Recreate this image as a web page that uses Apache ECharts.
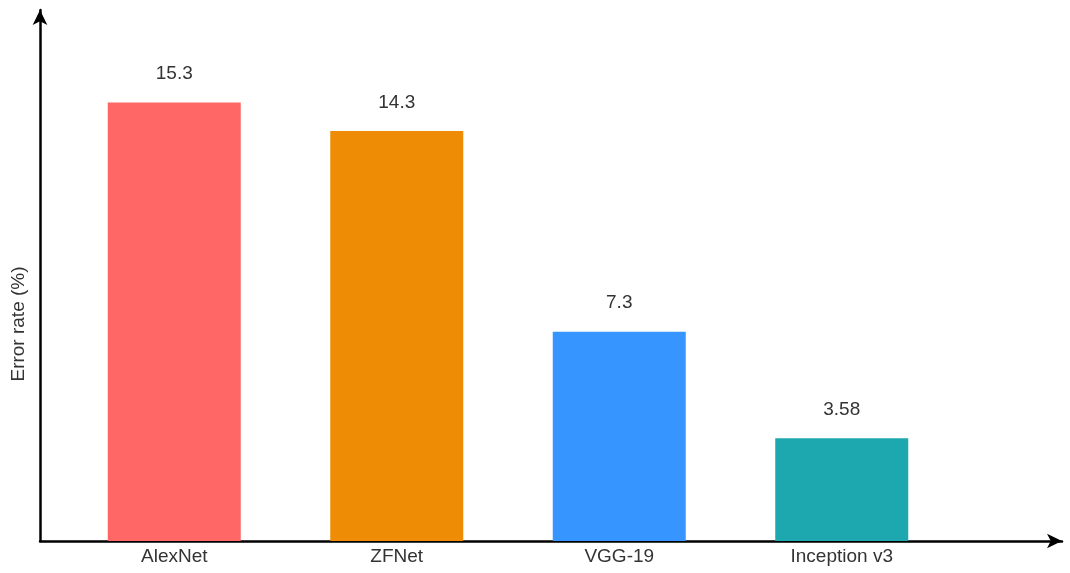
<!DOCTYPE html>
<html>
<head>
<meta charset="utf-8">
<script src="https://cdn.jsdelivr.net/npm/echarts@6/dist/echarts.min.js"></script>
<style>
  html, body { margin: 0; padding: 0; background: #ffffff; }
  #chart { width: 1070px; height: 573px; }
</style>
</head>
<body>
<div id="chart"></div>
<script>
// Top-5 error rates of well-known CNN architectures
const models = ['AlexNet', 'ZFNet', 'VGG-19', 'Inception v3'];
const errorRates = [15.3, 14.3, 7.3, 3.58];
const barColors = ['#FF6666', '#EF8C05', '#3795FF', '#1CA8AE'];
const yAxisTitle = 'Error rate (%)';

const chart = echarts.init(document.getElementById('chart'));
const font = 'Liberation Sans, Arial, sans-serif';

chart.setOption({
  backgroundColor: '#ffffff',
  animation: false,
  grid: [
    // frame with the arrowed axes
    { left: 40, right: 8, top: 10, bottom: 32 },
    // plotting area for the bars
    { left: 63, right: 117, top: 25, bottom: 32 }
  ],
  xAxis: [
    {
      gridIndex: 0, type: 'value', min: 0, max: 1,
      axisLine: { show: true, lineStyle: { color: '#000', width: 2.5 }, symbol: ['none', 'arrow'], symbolSize: [11, 15] },
      axisTick: { show: false }, axisLabel: { show: false }, splitLine: { show: false }
    },
    {
      gridIndex: 1, type: 'category', data: models,
      axisLine: { show: false }, axisTick: { show: false },
      axisLabel: { color: '#333', fontSize: 19, fontFamily: font, margin: 6 }
    }
  ],
  yAxis: [
    {
      gridIndex: 0, type: 'value', min: 0, max: 1,
      axisLine: { show: true, lineStyle: { color: '#000', width: 2.5 }, symbol: ['none', 'arrow'], symbolSize: [11, 15] },
      axisTick: { show: false }, axisLabel: { show: false }, splitLine: { show: false }
    },
    {
      gridIndex: 1, type: 'value', min: 0, max: 18,
      show: false, splitLine: { show: false }
    }
  ],
  graphic: [
    {
      type: 'text', x: 19, y: 324, rotation: Math.PI / 2,
      style: { text: yAxisTitle, fill: '#333', font: '19px ' + font, align: 'center', verticalAlign: 'middle' }
    }
  ],
  series: [
    {
      type: 'bar', xAxisIndex: 1, yAxisIndex: 1,
      barWidth: 133,
      data: errorRates.map((v, i) => ({ value: v, itemStyle: { color: barColors[i] } })),
      label: { show: true, position: 'top', distance: 19, color: '#333', fontSize: 19, fontFamily: font }
    }
  ]
});
</script>
</body>
</html>
